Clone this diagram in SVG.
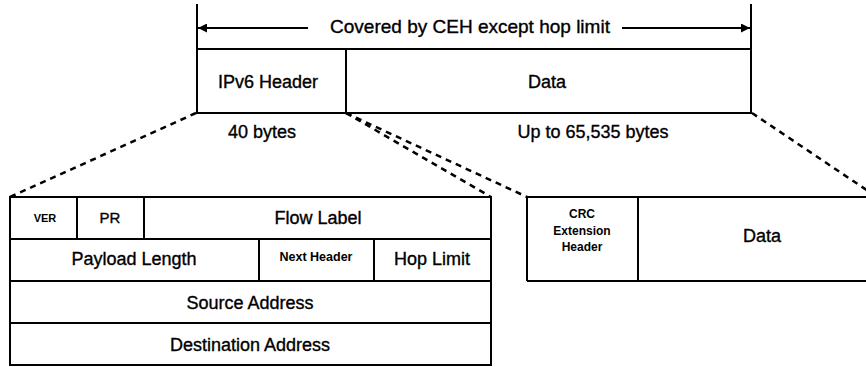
<svg xmlns="http://www.w3.org/2000/svg" width="866" height="367" viewBox="0 0 866 367">
<defs>
<style>
.ln{stroke:#000;stroke-width:2;fill:none}
.dash{stroke:#000;stroke-width:2.5;fill:none;stroke-dasharray:6 5}
.t{font-family:"Liberation Sans",Arial,sans-serif;font-size:18px;fill:#000;stroke:#000;stroke-width:0.35;text-anchor:middle}
.s{font-family:"Liberation Sans",Arial,sans-serif;font-size:12px;font-weight:bold;fill:#000;text-anchor:middle}
</style>
<marker id="ah" viewBox="0 0 10 10" refX="10" refY="5" markerWidth="16" markerHeight="9" markerUnits="userSpaceOnUse" orient="auto-start-reverse">
<path d="M0,0 L10,5 L0,10 z" fill="#000"/>
</marker>
</defs>
<rect width="866" height="367" fill="#fff"/>

<g id="span">
<line class="ln" x1="197" y1="4" x2="197" y2="113"/>
<line class="ln" x1="751" y1="4" x2="751" y2="113"/>
<line class="ln" x1="308" y1="28" x2="198" y2="28" marker-end="url(#ah)"/>
<line class="ln" x1="622" y1="28" x2="750" y2="28" marker-end="url(#ah)"/>
<text class="t" x="470" y="33" style="font-size:19px">Covered by CEH except hop limit</text>
</g>

<g id="packet">
<rect class="ln" x="197" y="49" width="554" height="64"/>
<line class="ln" x1="346" y1="49" x2="346" y2="113"/>
<text class="t" x="268" y="88">IPv6 Header</text>
<text class="t" x="547" y="88">Data</text>
<text class="t" x="262" y="138">40 bytes</text>
<text class="t" x="593" y="138">Up to 65,535 bytes</text>
</g>

<g id="connectors">
<line class="dash" x1="196" y1="113" x2="10" y2="197"/>
<line class="dash" x1="346" y1="113" x2="491" y2="197"/>
<line class="dash" x1="346" y1="113" x2="527" y2="197"/>
<line class="dash" x1="752" y1="113" x2="877" y2="197"/>
</g>

<g id="ipv6-header">
<rect class="ln" x="10" y="197" width="481" height="168"/>
<line class="ln" x1="10" y1="239" x2="491" y2="239"/>
<line class="ln" x1="10" y1="281" x2="491" y2="281"/>
<line class="ln" x1="10" y1="323" x2="491" y2="323"/>
<line class="ln" x1="77" y1="197" x2="77" y2="239"/>
<line class="ln" x1="144" y1="197" x2="144" y2="239"/>
<line class="ln" x1="259" y1="239" x2="259" y2="281"/>
<line class="ln" x1="374" y1="239" x2="374" y2="281"/>
<text class="s" x="45" y="222" style="font-size:11px">VER</text>
<text class="t" x="110" y="223" style="font-size:15px">PR</text>
<text class="t" x="318" y="224">Flow Label</text>
<text class="t" x="134" y="265">Payload Length</text>
<text class="s" x="316" y="261" style="font-size:12.5px">Next Header</text>
<text class="t" x="432" y="265">Hop Limit</text>
<text class="t" x="250" y="309">Source Address</text>
<text class="t" x="250" y="351">Destination Address</text>
</g>

<g id="crc-packet">
<line class="ln" x1="527" y1="197" x2="866" y2="197"/>
<line class="ln" x1="527" y1="281" x2="866" y2="281"/>
<line class="ln" x1="527" y1="197" x2="527" y2="281"/>
<line class="ln" x1="638" y1="197" x2="638" y2="281"/>
<text class="s" x="582" y="218">CRC</text>
<text class="s" x="582" y="235">Extension</text>
<text class="s" x="582" y="251">Header</text>
<text class="t" x="762" y="242">Data</text>
</g>
</svg>
